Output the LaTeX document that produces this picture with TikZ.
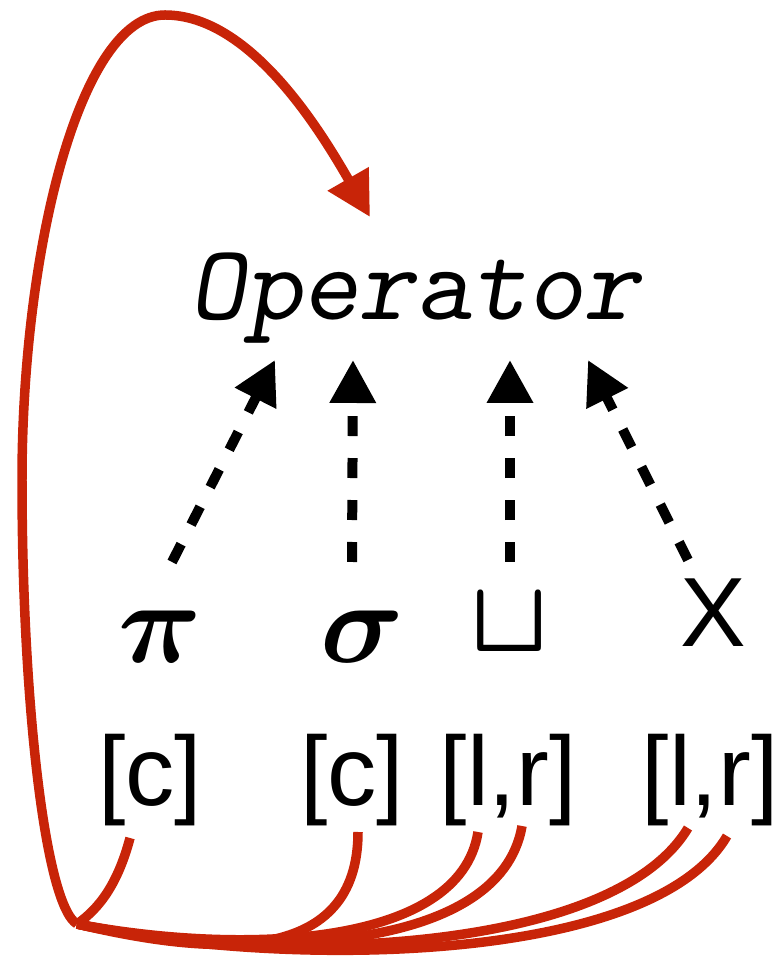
\RequirePackage{fix-cm}
\documentclass[tikz,border=0pt]{standalone}
\usepackage{amsmath}
\usepackage{fontspec}
\newfontfamily\labfont{Liberation Sans}
\usetikzlibrary{arrows.meta, calc}
\definecolor{loopred}{RGB}{200,36,8}

\begin{document}
\begin{tikzpicture}[
    x=0.02cm, y=0.02cm,
    optext/.style={inner sep=0pt, anchor=base, font=\ttfamily\slshape\fontsize{61}{66}\selectfont},
    sym/.style={inner sep=0pt, anchor=base, font=\fontsize{66}{70}\selectfont},
    lab/.style={inner sep=0pt, anchor=base, font=\labfont\fontsize{56}{60}\selectfont},
    % Arrow styles
    dasharrow/.style={-{Triangle[length=0.86cm, width=0.88cm]}, line width=0.2cm, dash pattern=on 0.4cm off 0.44cm},
    loop/.style={loopred, line width=0.19cm}
  ]
  \useasboundingbox (0,0) rectangle (782,963);

  % -------- Top --------
  \node[optext] (op) at (415,643) {Operator};

  % -------- Operator symbols --------
  \node[sym] (pi) at (160,300) {$\boldsymbol{\pi}$};
  \node[sym] (sigma) at (362,300) {$\boldsymbol{\sigma}$};
  \node[sym, font=\fontsize{58}{62}\selectfont] (sqcup) at (510,311) {$\boldsymbol{\sqcup}$};
  \node[lab] (cross) at (713,316) {X};

  % -------- Parameters --------
  \node[lab] (c1) at (150,157) {[c]};
  \node[lab] (c2) at (352,157) {[c]};
  \node[lab] (lr1) at (508,157) {[l,r]};
  \node[lab] (lr2) at (710,157) {[l,r]};

  % -------- Dashed arrows --------
  \draw[dasharrow] ($(pi.base)+(12,101)$) -- ($(op.base)+(-140,-40)$);
  \draw[dasharrow] ($(sigma.base)+(-10,101)$) -- ($(op.base)+(-62,-40)$);
  \draw[dasharrow] ($(sqcup.base)+(0,90)$) -- ($(op.base)+(95,-40)$);
  \draw[dasharrow] ($(cross.base)+(-25,87)$) -- ($(op.base)+(173,-40)$);

  % -------- Red curves --------
  \coordinate (J) at (77,39);
  \coordinate (loop tip) at (370,746);

  \draw[loop] ($(c1.base)+(-20,-32)$) .. controls (118,80) and (100,55) .. (J);
  \draw[loop] ($(c2.base)+(6,-26)$) .. controls (358,0) and (220,5) .. (J);
  \draw[loop] ($(lr1.base)+(-30,-26)$) .. controls (460,15) and (240,8) .. (J);
  \draw[loop] ($(lr1.base)+(14,-20)$) .. controls (500,8) and (250,3) .. (J);
  \draw[loop] ($(lr2.base)+(-22,-22)$) .. controls (610,5) and (260,0) .. (J);
  \draw[loop] ($(lr2.base)+(17,-30)$) .. controls (650,-5) and (270,-5) .. (J);

  \draw[loop, -{Triangle[length=0.88cm, width=0.9cm]}] (J)
    .. controls (45,58) and (22,263) .. (22,483)
    .. controls (22,713) and (80,948) .. (165,948)
    .. controls (250,948) and (320,833) .. (loop tip);

\end{tikzpicture}
\end{document}
